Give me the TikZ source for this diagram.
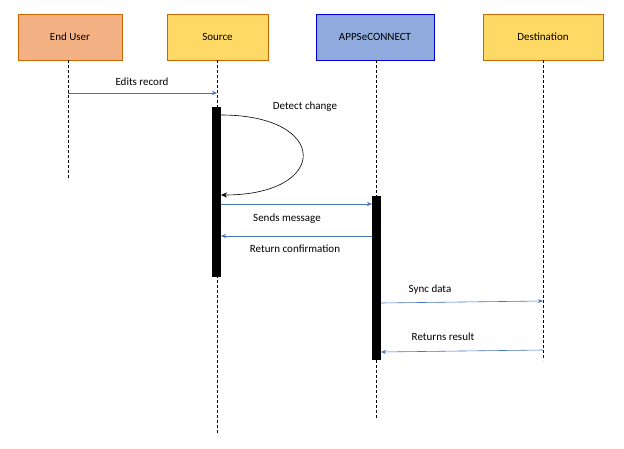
\documentclass[tikz,border=0pt]{standalone}
\usepackage{fontspec}
\setmainfont{Carlito}
\usetikzlibrary{arrows.meta}
\definecolor{msg}{HTML}{4472C4}
\begin{document}
\begin{tikzpicture}[x=1pt,y=-1pt,
  box/.style={draw=#1!80!black,line width=0.6pt,minimum height=46pt,inner sep=0pt,font=\fontsize{11}{13}\selectfont},
  life/.style={dashed,line width=0.5pt,dash pattern=on 3pt off 2pt},
  act/.style={fill=black,draw=none},
  m/.style={draw=msg,-{Stealth[length=5pt,width=4pt]},line width=0.6pt},
  lbl/.style={font=\fontsize{11}{13}\selectfont}]
\useasboundingbox (0,0) rectangle (624,449);
\node[box=orange,fill={rgb,255:red,244;green,177;blue,131},minimum width=104pt] (eu) at (70,37) {End User};
\node[box=orange,fill={rgb,255:red,255;green,217;blue,102},minimum width=101pt] (src) at (217.5,37) {Source};
\node[box=blue,fill={rgb,255:red,143;green,170;blue,220},minimum width=118pt] (app) at (375,37) {APPSeCONNECT};
\node[box=orange,fill={rgb,255:red,255;green,217;blue,102},minimum width=120pt] (dst) at (543,37) {Destination};
\coordinate (euE) at (68,180);
\coordinate (srcE) at (217,435);
\coordinate (appE) at (376,418);
\coordinate (dstE) at (543,360);
\draw[life] (68,60) -- (euE);
\draw[life] (217,60) -- (srcE);
\draw[life] (376,60) -- (appE);
\draw[life] (543,60) -- (dstE);
\node[act,minimum width=9pt,minimum height=170pt,inner sep=0pt] (sa) at (216.5,192) {};
\node[act,minimum width=9pt,minimum height=164pt,inner sep=0pt] (aa) at (376.5,278) {};
\draw[m] (68,93) -- (217,93);
\node[lbl] (l1) at (142,82) {Edits record};
\draw[-{Stealth[length=6pt,width=5pt]},line width=0.6pt] (221,115) .. controls (330,115) and (330,195) .. (221,195);
\node[lbl] (l2) at (305,107) {Detect change};
\draw[m] (221,204) -- (372,204);
\node[lbl] (l3) at (287,219) {Sends message};
\draw[m] (372,236) -- (221,236);
\node[lbl] (l4) at (295,249) {Return confirmation};
\draw[m] (381,303) -- (543,301);
\node[lbl] (l5) at (430,290) {Sync data};
\draw[m] (543,350) -- (381,352);
\node[lbl] (l6) at (443,337) {Returns result};
\end{tikzpicture}
\end{document}
